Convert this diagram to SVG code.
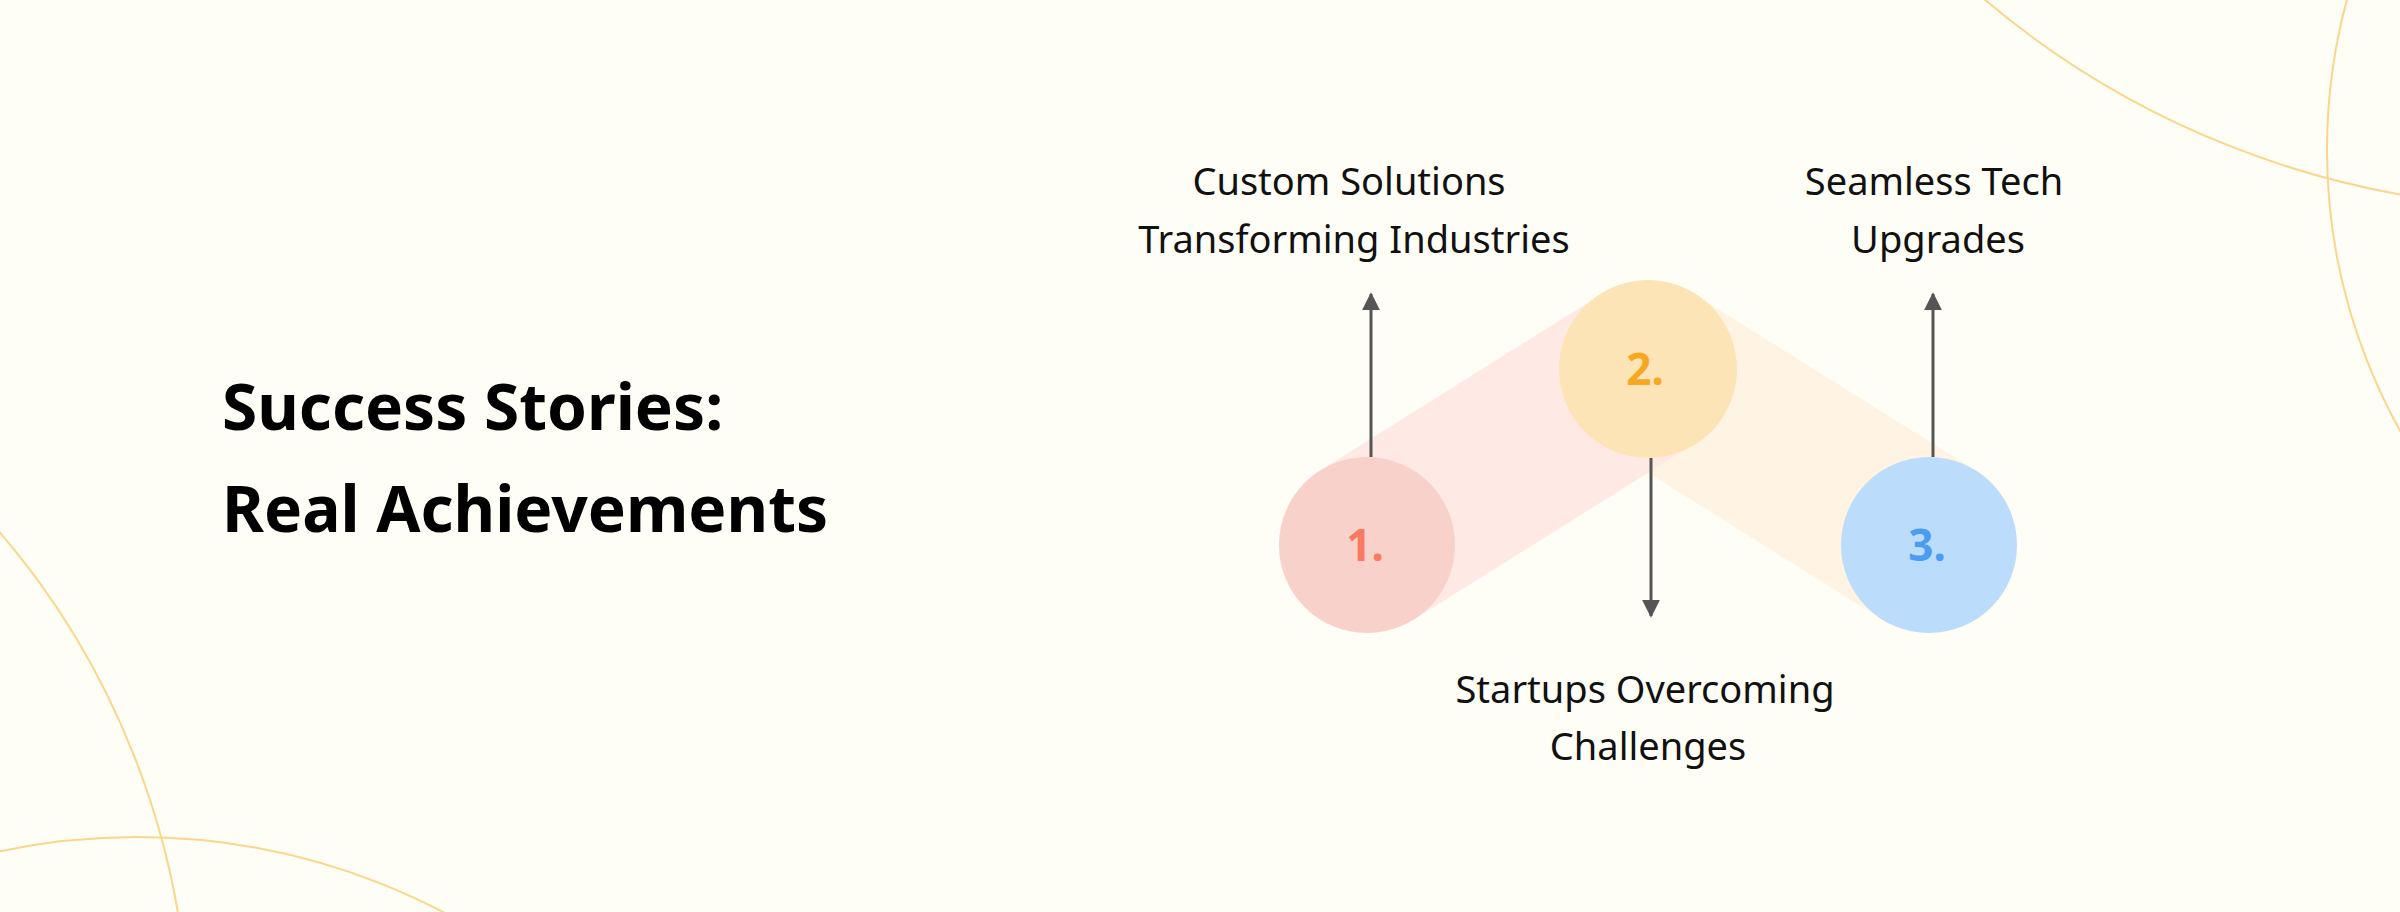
<svg xmlns="http://www.w3.org/2000/svg" width="2400" height="912" viewBox="0 0 2400 912">
  <defs>
    <style>
      .deco { fill: none; stroke: #FAD68C; stroke-width: 2; }
      .label { font-family: "Noto Sans", "Open Sans", sans-serif; font-size: 38px; fill: #111; text-anchor: middle; }
      .title { font-family: "Noto Sans", "Open Sans", sans-serif; font-size: 64px; font-weight: bold; fill: #000; }
      .num { font-family: "Noto Sans", "Open Sans", sans-serif; font-size: 44px; font-weight: bold; text-anchor: middle; }
      .arrow { stroke: #555; stroke-width: 3; fill: none; marker-end: url(#ah); }
    </style>
    <marker id="ah" viewBox="0 0 10 10" refX="9" refY="5" markerWidth="6" markerHeight="6" markerUnits="strokeWidth" orient="auto">
      <path d="M0,0 L10,5 L0,10 Z" fill="#555"/>
    </marker>
  </defs>
  <rect width="2400" height="912" fill="#FEFDF6"/>
  <g id="decoration">
    <circle class="deco" cx="2555" cy="-676" r="884"/>
    <circle class="deco" cx="2902" cy="150" r="575"/>
    <circle class="deco" cx="-600" cy="1045" r="789"/>
    <circle class="deco" cx="137" cy="1498" r="661"/>
  </g>
  <g id="title">
    <text class="title" x="222" y="430">Success Stories:</text>
    <text class="title" x="222" y="532">Real Achievements</text>
  </g>
  <g id="bands">
    <line x1="1929" y1="545" x2="1648" y2="369" stroke="#FFF4E3" stroke-width="176"/>
    <line x1="1367" y1="545" x2="1648" y2="369" stroke="#FFE9E4" stroke-width="176"/>
  </g>
  <g id="node1">
    <circle cx="1367" cy="545" r="88" fill="#F9D1CB"/>
    <text class="num" x="1365" y="561" fill="#F87A62">1.</text>
  </g>
  <g id="node2">
    <circle cx="1648" cy="369" r="89" fill="#FDE4B6"/>
    <text class="num" x="1645" y="385" fill="#F7A722">2.</text>
  </g>
  <g id="node3">
    <circle cx="1929" cy="545" r="88" fill="#BBDCFB"/>
    <text class="num" x="1927" y="561" fill="#4B9CF2">3.</text>
  </g>
  <g id="connectors">
    <line class="arrow" x1="1371" y1="457" x2="1371" y2="294"/>
    <line class="arrow" x1="1651" y1="458" x2="1651" y2="616"/>
    <line class="arrow" x1="1933" y1="457" x2="1933" y2="294"/>
  </g>
  <g id="label1">
    <text class="label" x="1349" y="195">Custom Solutions</text>
    <text class="label" x="1354" y="253">Transforming Industries</text>
  </g>
  <g id="label2">
    <text class="label" x="1645" y="703">Startups Overcoming</text>
    <text class="label" x="1648" y="760">Challenges</text>
  </g>
  <g id="label3">
    <text class="label" x="1934" y="195">Seamless Tech</text>
    <text class="label" x="1938" y="253">Upgrades</text>
  </g>
</svg>
